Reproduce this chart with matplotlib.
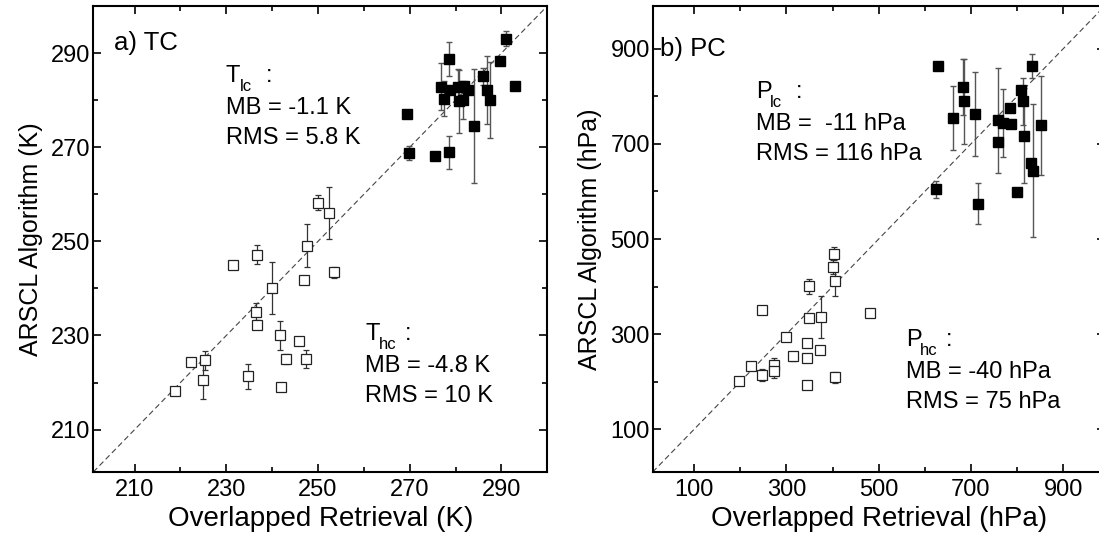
import matplotlib
matplotlib.use("Agg")
import matplotlib.pyplot as plt
from matplotlib.ticker import MultipleLocator, FixedLocator

# ---------------- data ----------------
# a) TC : low clouds (filled squares)
tc_lc_x = [290.9, 289.7, 292.9, 286.0, 286.9, 287.6, 284.0, 278.5, 276.9, 277.5,
           278.7, 280.5, 280.7, 281.7, 281.9, 282.8, 269.3, 269.8, 275.5, 278.5]
tc_lc_y = [293.0, 288.4, 282.9, 285.1, 282.2, 280.1, 274.5, 288.7, 282.8, 280.3,
           282.2, 282.8, 279.8, 280.0, 283.1, 282.1, 277.1, 268.8, 268.1, 268.9]
tc_lc_err = [1.6, 0, 0, 1.8, 7.2, 8.1, 12.1, 3.6, 5.0, 3.7,
             0, 3.8, 6.7, 4.0, 0, 0, 0, 1.5, 0, 3.5]
# a) TC : high clouds (open squares)
tc_hc_x = [250.0, 252.3, 247.7, 236.6, 231.5, 253.5, 247.0, 240.0, 236.5, 236.7,
           241.8, 245.8, 243.0, 247.4, 225.3, 222.2, 225.0, 234.8, 241.9, 218.8]
tc_hc_y = [258.2, 256.1, 249.1, 247.2, 244.9, 243.4, 241.7, 240.1, 235.0, 232.3,
           230.0, 228.8, 225.0, 225.0, 224.7, 224.3, 220.5, 221.3, 219.1, 218.2]
tc_hc_err = [1.6, 5.5, 4.5, 2.0, 0, 1.2, 0.8, 5.5, 2.0, 1.0,
             3.0, 0.8, 1.0, 2.0, 2.0, 0, 3.9, 2.7, 0, 0.6]

# b) PC : low clouds (filled squares)
pc_lc_x = [629.0, 683.6, 685.8, 661.8, 709.0, 623.3, 716.3, 757.7, 757.7, 769.3,
           786.8, 783.9, 808.6, 813.0, 815.9, 799.9, 830.4, 834.0, 832.6, 852.9]
pc_lc_y = [863.4, 819.7, 789.4, 754.2, 762.7, 604.2, 574.6, 749.3, 704.9, 743.7,
           741.5, 775.4, 814.1, 789.4, 716.9, 599.3, 659.2, 643.7, 863.4, 738.7]
pc_lc_err = [0, 58, 90, 68, 88, 18, 43, 110, 0, 71,
             0, 0, 0, 50, 100, 0, 0, 140, 25, 105]
# b) PC : high clouds (open squares)
pc_hc_x = [402.3, 400.9, 406.0, 347.8, 247.5, 480.1, 374.0, 347.8, 299.9, 344.9,
           373.3, 313.7, 343.5, 273.0, 273.0, 223.5, 247.5, 406.0, 198.1, 344.2]
pc_hc_y = [469.1, 441.1, 412.3, 400.4, 349.8, 344.2, 335.8, 333.7, 293.7, 281.1,
           265.6, 253.0, 249.5, 235.4, 221.4, 231.9, 214.4, 208.8, 200.4, 192.6]
pc_hc_err = [14, 14, 32, 16, 0, 0, 44, 6, 5, 8,
             6, 10, 0, 14, 14, 0, 12, 11, 4, 0]

tc_ticks = [210, 230, 250, 270, 290]
pc_ticks = [100, 300, 500, 700, 900]

plt.rcParams['font.family'] = ['Liberation Sans', 'DejaVu Sans']

W, H = 1099, 538
fig = plt.figure(figsize=(W / 100, H / 100), dpi=100)


def px(x, y):
    return x / W, 1 - y / H


ax1 = fig.add_axes([93.3 / W, 66 / H, 454 / W, 466 / H])
ax2 = fig.add_axes([652.7 / W, 66 / H, 452 / W, 466 / H])


def style(ax, lo, hi, ticks, minor_step, xlabel, ylabel):
    ax.set_xlim(lo, hi)
    ax.set_ylim(lo, hi)
    ax.plot([lo, hi], [lo, hi], color='#444444', lw=0.8, dashes=(5, 3), zorder=1)
    ax.xaxis.set_major_locator(FixedLocator(ticks))
    ax.yaxis.set_major_locator(FixedLocator(ticks))
    ax.xaxis.set_minor_locator(MultipleLocator(minor_step))
    ax.yaxis.set_minor_locator(MultipleLocator(minor_step))
    ax.tick_params(which='both', direction='in', top=True, right=True, width=1.2)
    ax.tick_params(which='major', length=5.5, labelsize=17)
    ax.tick_params(which='minor', length=3.5)
    ax.tick_params(axis='x', pad=5)
    ax.tick_params(axis='y', pad=2)
    for s in ax.spines.values():
        s.set_linewidth(1.5)
    ax.set_xlabel(xlabel, fontsize=20, labelpad=4)
    ax.set_ylabel(ylabel, fontsize=18, labelpad=6)


def draw(ax, x, y, e, filled):
    if filled:
        ax.errorbar(x, y, yerr=e, fmt='s', ms=6.5, mfc='black', mec='black',
                    ecolor='#555555', elinewidth=1.0, capsize=2.5, capthick=1.0, zorder=3)
    else:
        ax.errorbar(x, y, yerr=e, fmt='s', ms=6.5, mfc='white', mec='#222222', mew=0.9,
                    ecolor='#333333', elinewidth=0.9, capsize=2.5, capthick=0.9, zorder=3)


style(ax1, 201, 300, tc_ticks, 10, 'Overlapped Retrieval (K)', 'ARSCL Algorithm (K)')
style(ax2, 10, 990, pc_ticks, 100, 'Overlapped Retrieval (hPa)', 'ARSCL Algorithm (hPa)')

draw(ax1, tc_hc_x, tc_hc_y, tc_hc_err, False)
draw(ax1, tc_lc_x, tc_lc_y, tc_lc_err, True)
draw(ax2, pc_hc_x, pc_hc_y, pc_hc_err, False)
draw(ax2, pc_lc_x, pc_lc_y, pc_lc_err, True)

# panel titles
fig.text(*px(114, 50), 'a) TC', fontsize=18.5, va='baseline')
fig.text(*px(660, 56), 'b) PC', fontsize=18.5, va='baseline')


def stat_block(x, y0, sym, sub, lines):
    fig.text(*px(x, y0), sym, fontsize=17, va='baseline')
    fig.text(*px(x + 14, y0 + 9), sub, fontsize=12, va='baseline')
    fig.text(*px(x + 40, y0), ':', fontsize=17, va='baseline')
    for i, line in enumerate(lines):
        fig.text(*px(x, y0 + 32 + 30 * i), line, fontsize=17, va='baseline')


stat_block(226, 82, 'T', 'lc', ['MB = -1.1 K', 'RMS = 5.8 K'])
stat_block(365, 340, 'T', 'hc', ['MB = -4.8 K', 'RMS = 10 K'])
stat_block(756, 98, 'P', 'lc', ['MB =  -11 hPa', 'RMS = 116 hPa'])
stat_block(906, 346, 'P', 'hc', ['MB = -40 hPa', 'RMS = 75 hPa'])

fig.savefig('out.png', dpi=100)
